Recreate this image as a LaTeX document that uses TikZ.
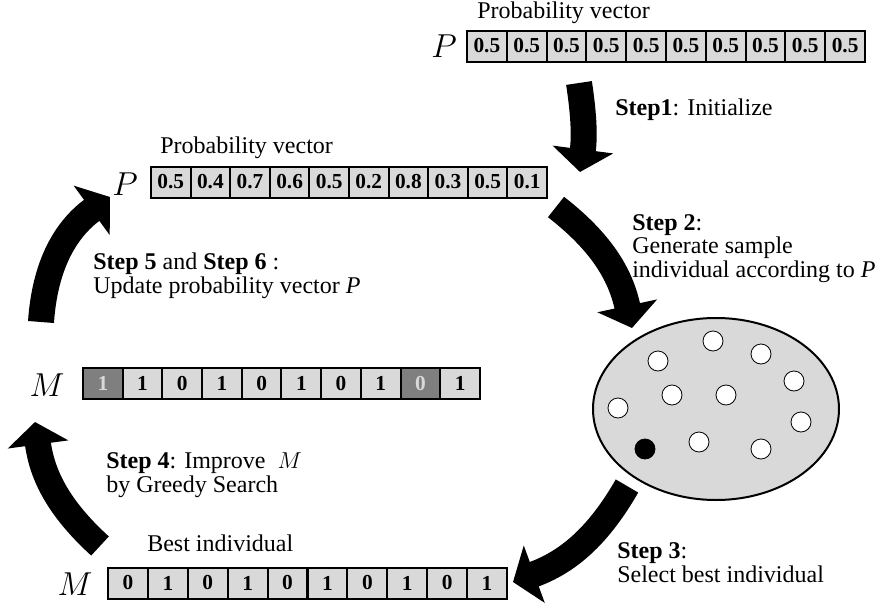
\documentclass[tikz,border=0pt]{standalone}
\usepackage{fontspec}
\setmainfont{Liberation Serif}
\usepackage{tikz}
\usetikzlibrary{arrows.meta,shapes.geometric,positioning}

\definecolor{cellgray}{HTML}{D9D9D9}
\definecolor{bitgray}{HTML}{7F7F7F}

\tikzset{
  cellbox/.style={draw, line width=1.5pt, fill=cellgray, minimum width=29.8pt, minimum height=23.25pt, inner sep=0pt, font=\fontsize{16}{16}\selectfont\bfseries},
  flipbox/.style={cellbox, fill=bitgray, text=cellgray},
  steptext/.style={anchor=base west, inner sep=0pt, align=left, font=\fontsize{18}{17.5}\selectfont},
  veclabel/.style={inner sep=0pt, font=\fontsize{24}{24}\selectfont},
  bigarrow/.style={line width=19.5pt, -{Triangle[length=17pt,width=45pt]}},
  indiv/.style={circle, draw, line width=0.6pt, fill=white, minimum size=15pt, inner sep=0pt},
}

\begin{document}
\begin{tikzpicture}[x=0.75pt,y=0.75pt,yscale=-1,xscale=1]
  \path[use as bounding box] (0,0) rectangle (876,607);

    % initial probability vector
    \node[steptext] (titleinit) at (477,18) {Probability vector};
    \node[veclabel] (pinit) at (444,46) {$P$};
    \foreach \v [count=\i] in {0.5,0.5,0.5,0.5,0.5,0.5,0.5,0.5,0.5,0.5}
      \node[cellbox] (init-\i) at ({467+(\i-0.5)*39.8},46) {\v};

    % Text Node
    \node[steptext] (step1) at (615,115) {\textbf{Step1}: Initialize};

    % updated probability vector
    \node[steptext] (titlenew) at (160,153) {Probability vector};
    \node[veclabel] (pnew) at (125,184) {$P$};
    \foreach \v [count=\i] in {0.5,0.4,0.7,0.6,0.5,0.2,0.8,0.3,0.5,0.1}
      \node[cellbox] (new-\i) at ({151+(\i-0.5)*39.6},182) {\v};

    % Text Node (base = last line)
    \node[steptext] (step2) at (632,277) {\textbf{Step 2}:\\Generate sample\\individual according to \textit{P}};

    % population of samples
    \node[ellipse, draw, line width=1.5pt, fill=cellgray, minimum width=184.5pt, minimum height=136.5pt] (pool) at (716,409) {};
    \foreach \p [count=\i] in {(713,341),(761,354),(658,361),(794,381),(672,395),(726,395),(618,408),(801,422),(699,442),(761,449)}
      \node[indiv] (ind-\i) at \p {};
    \node[indiv, fill=black] (best) at (645,449) {};

    % Text Node
    \node[steptext] (step3) at (617,582) {\textbf{Step 3}:\\Select best individual};

    % best individual
    \node[steptext] (titlebest) at (147,551) {Best individual};
    \node[veclabel] (mbest) at (75,584) {$M$};
    \foreach \v [count=\i] in {0,1,0,1,0,1,0,1,0,1}
      \node[cellbox] (best-\i) at ({108+(\i-0.5)*39.9},583) {\v};

    % Text Node
    \node[steptext] (step4) at (106,492) {\textbf{Step 4}: Improve~ $M$\\by Greedy Search};

    % improved individual
    \node[veclabel] (mgreedy) at (47,385) {$M$};
    \foreach \v/\s [count=\i] in {1/flipbox,1/cellbox,0/cellbox,1/cellbox,0/cellbox,1/cellbox,0/cellbox,1/cellbox,0/flipbox,1/cellbox}
      \node[\s] (greedy-\i) at ({83+(\i-0.5)*39.7},383.5) {\v};

    % Text Node
    \node[steptext] (step5) at (93,293) {\textbf{Step 5} and \textbf{Step 6} :\\Update probability vector \textit{P}};

    % arrows (yscale=-1 flips the bends)
    \coordinate (s1-from) at (579,83);
    \coordinate (s1-to) at (580,172);
    \coordinate (s2-from) at (556,207);
    \coordinate (s2-to) at (632,328);
    \coordinate (s3-from) at (627,486);
    \coordinate (s3-to) at (513,582);
    \coordinate (s4-from) at (100,546);
    \coordinate (s4-to) at (35,422);
    \coordinate (s5-from) at (41,322);
    \coordinate (s5-to) at (110,197);
    \draw[bigarrow] (s1-from) to[bend right=8] (s1-to);
    \draw[bigarrow] (s2-from) to[bend right=20] (s2-to);
    \draw[bigarrow] (s3-from) to[bend right=20] (s3-to);
    \draw[bigarrow] (s4-from) to[bend right=20] (s4-to);
    \draw[bigarrow] (s5-from) to[bend right=25] (s5-to);

\end{tikzpicture}
\end{document}
